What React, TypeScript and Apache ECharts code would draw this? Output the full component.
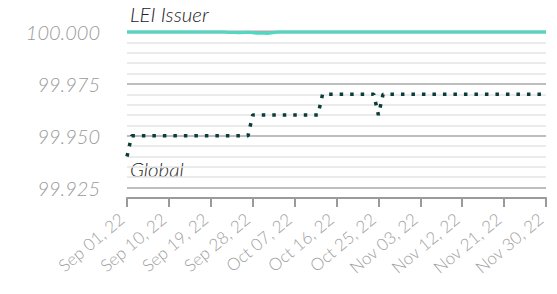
import React, { useEffect, useRef } from "react";
import * as echarts from "echarts";

const startDate = "2022-09-01";
const dayCount = 91;
const monthNames = ["Jan", "Feb", "Mar", "Apr", "May", "Jun", "Jul", "Aug", "Sep", "Oct", "Nov", "Dec"];

const globalValues = [
  99.94,
  99.95, 99.95, 99.95, 99.95, 99.95, 99.95, 99.95, 99.95, 99.95, 99.95,
  99.95, 99.95, 99.95, 99.95, 99.95, 99.95, 99.95, 99.95, 99.95, 99.95,
  99.95, 99.95, 99.95, 99.95, 99.95, 99.95,
  99.96, 99.96, 99.96, 99.96, 99.96, 99.96, 99.96, 99.96, 99.96, 99.96,
  99.96, 99.96, 99.96, 99.96, 99.96,
  99.97, 99.97, 99.97, 99.97, 99.97, 99.97, 99.97, 99.97, 99.97, 99.97,
  99.97, 99.97,
  99.96,
  99.97, 99.97, 99.97, 99.97, 99.97, 99.97, 99.97, 99.97, 99.97, 99.97,
  99.97, 99.97, 99.97, 99.97, 99.97, 99.97, 99.97, 99.97, 99.97, 99.97,
  99.97, 99.97, 99.97, 99.97, 99.97, 99.97, 99.97, 99.97, 99.97, 99.97,
  99.97, 99.97, 99.97, 99.97, 99.97, 99.97,
];

const leiValues = [
  100, 100, 100, 100, 100, 100, 100, 100, 100, 100,
  100, 100, 100, 100, 100, 100, 100, 100, 100, 100,
  100, 100,
  99.9997, 99.9998, 99.9996, 99.9997, 99.9999, 99.9996, 99.9994, 99.9995, 99.9993, 99.9995, 99.9999,
  100, 100, 100, 100, 100, 100, 100, 100, 100, 100,
  100, 100, 100, 100, 100, 100, 100, 100, 100, 100,
  100, 100, 100, 100, 100, 100, 100, 100, 100, 100,
  100, 100, 100, 100, 100, 100, 100, 100, 100, 100,
  100, 100, 100, 100, 100, 100, 100, 100, 100, 100,
  100, 100, 100, 100, 100, 100, 100, 100,
];

const baseValues = [
  100, 100, 100, 100, 100, 100, 100, 100, 100, 100,
  100, 100, 100, 100, 100, 100, 100, 100, 100, 100,
  100, 100, 100, 100, 100, 100, 100, 100, 100, 100,
  100, 100, 100, 100, 100, 100, 100, 100, 100, 100,
  100, 100, 100, 100, 100, 100, 100, 100, 100, 100,
  100, 100, 100, 100, 100, 100, 100, 100, 100, 100,
  100, 100, 100, 100, 100, 100, 100, 100, 100, 100,
  100, 100, 100, 100, 100, 100, 100, 100, 100, 100,
  100, 100, 100, 100, 100, 100, 100, 100, 100, 100,
  100,
];

const yMin = 99.92;
const yMax = 100;
const yStep = 0.005;
const yLabelStep = 0.025;

function buildCategories(): string[] {
  const out: string[] = [];
  const d0 = new Date(startDate + "T00:00:00Z");
  for (let i = 0; i < dayCount; i++) {
    const d = new Date(d0.getTime() + i * 86400000);
    const dd = String(d.getUTCDate()).padStart(2, "0");
    const yy = String(d.getUTCFullYear()).slice(2);
    out.push(`${monthNames[d.getUTCMonth()]} ${dd}, ${yy}`);
  }
  return out;
}

const FONT = "Lato";

export default function App() {
  const ref = useRef<HTMLDivElement>(null);
  useEffect(() => {
    if (!ref.current) return;
    const chart = echarts.init(ref.current, null, { renderer: "svg" });
    const categories = buildCategories();
    chart.setOption({
      animation: false,
      grid: { left: 127, right: 11, top: 32, bottom: 96, containLabel: false },
      xAxis: {
        type: "category",
        data: categories,
        boundaryGap: false,
        axisLine: { show: true, lineStyle: { color: "#9a9a9a", width: 2 } },
        axisTick: { show: true, interval: 8, length: 9, lineStyle: { color: "#9a9a9a", width: 2 } },
        axisLabel: {
          interval: 8,
          rotate: 40,
          margin: 14,
          color: "#a0a0a0",
          fontFamily: FONT,
          fontWeight: 300,
          fontSize: 17,
          formatter: (v: string) => `{t|${v}}{s|}`,
          rich: {
            t: { color: "#a0a0a0", fontFamily: FONT, fontWeight: 300, fontSize: 17 },
            s: { width: 7 },
          },
        },
        splitLine: { show: false },
      },
      yAxis: {
        type: "value",
        min: yMin,
        max: yMax,
        interval: yStep,
        axisLine: { show: false },
        axisTick: { show: false },
        axisLabel: {
          margin: 27,
          color: "#9a9a9a",
          fontFamily: FONT,
          fontWeight: 300,
          fontStyle: "italic",
          fontSize: 20,
          formatter: (v: number) => {
            const k = Math.round(v / yLabelStep);
            return Math.abs(k * yLabelStep - v) < 1e-6 ? v.toFixed(3) : "";
          },
        },
        splitLine: {
          show: true,
          showMinLine: false,
          lineStyle: { color: ["#a8a8a8", "#e4e4e4", "#e4e4e4", "#e4e4e4", "#e4e4e4"], width: 1.5 },
        },
      },
      graphic: [
        {
          type: "text",
          left: 130,
          top: 4,
          style: { text: "LEI Issuer", fill: "#222", font: `italic 300 20.5px ${FONT}` },
        },
        {
          type: "text",
          left: 130,
          top: 159,
          style: { text: "Global", fill: "#222", font: `italic 300 20.5px ${FONT}` },
        },
      ],
      series: [
        {
          type: "line",
          data: baseValues,
          showSymbol: false,
          clip: false,
          lineStyle: { color: "#aaaaaa", width: 3 },
          z: 1,
        },
        {
          type: "line",
          name: "LEI Issuer",
          data: leiValues,
          showSymbol: false,
          clip: false,
          lineStyle: { color: "#4fd9c3", width: 3 },
          z: 2,
        },
        {
          type: "line",
          name: "Global",
          data: globalValues,
          showSymbol: false,
          clip: false,
          lineStyle: { color: "#0b3b3a", width: 3.5, type: [3.5, 7], cap: "butt" },
          z: 3,
        },
      ],
    });
    return () => chart.dispose();
  }, []);
  return <div ref={ref} style={{ width: 557, height: 294, position: "absolute", left: 0, top: 0 }} />;
}
